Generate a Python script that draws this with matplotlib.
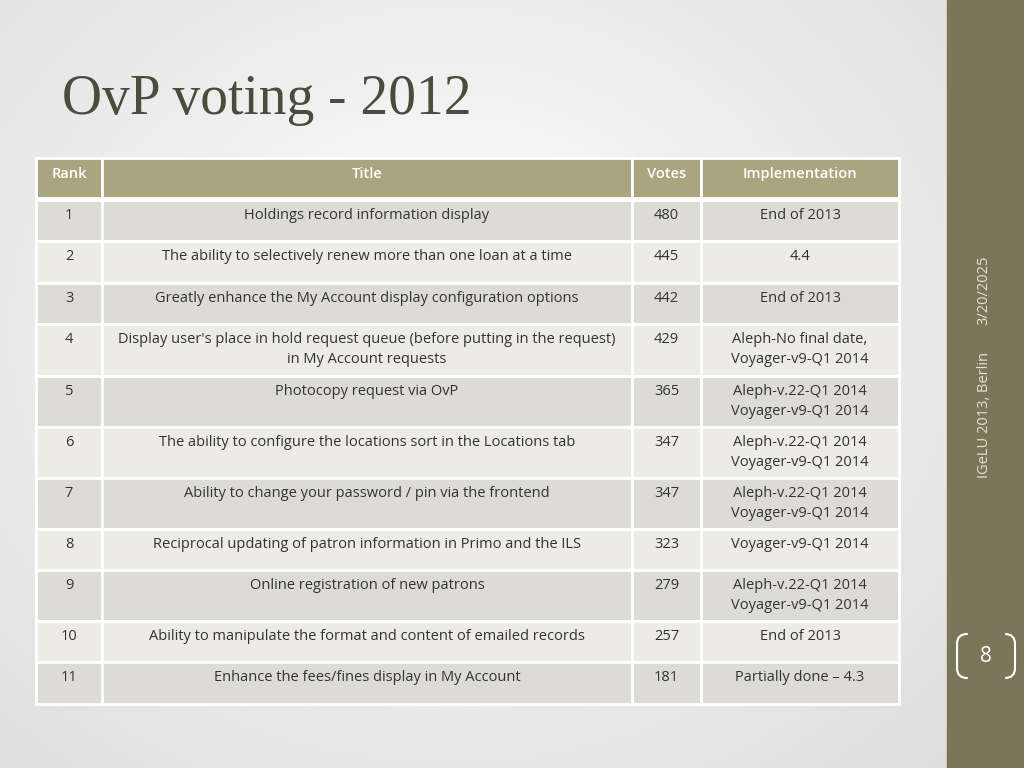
import matplotlib.pyplot as plt
from matplotlib.patches import Rectangle, FancyBboxPatch
import numpy as np

ranks = ["1", "2", "3", "4", "5", "6", "7", "8", "9", "10", "11"]
titles = [
    "Holdings record information display",
    "The ability to selectively renew more than one loan at a time",
    "Greatly enhance the My Account display configuration options",
    "Display user's place in hold request queue (before putting in the request)\nin My Account requests",
    "Photocopy request via OvP",
    "The ability to configure the locations sort in the Locations tab",
    "Ability to change your password / pin via the frontend",
    "Reciprocal updating of patron information in Primo and the ILS",
    "Online registration of new patrons",
    "Ability to manipulate the format and content of emailed records",
    "Enhance the fees/fines display in My Account",
]
votes = [480, 445, 442, 429, 365, 347, 347, 323, 279, 257, 181]
implementation = [
    "End of 2013", "4.4", "End of 2013",
    "Aleph-No final date,\nVoyager-v9-Q1 2014",
    "Aleph-v.22-Q1 2014\nVoyager-v9-Q1 2014",
    "Aleph-v.22-Q1 2014\nVoyager-v9-Q1 2014",
    "Aleph-v.22-Q1 2014\nVoyager-v9-Q1 2014",
    "Voyager-v9-Q1 2014",
    "Aleph-v.22-Q1 2014\nVoyager-v9-Q1 2014",
    "End of 2013", "Partially done \u2013 4.3",
]
headers = ["Rank", "Title", "Votes", "Implementation"]

fig = plt.figure(figsize=(10.24, 7.68), dpi=100)
ax = fig.add_axes([0, 0, 1, 1])
ax.set_xlim(0, 1024)
ax.set_ylim(768, 0)
ax.axis("off")

# background: soft radial gradient
yy, xx = np.mgrid[0:768, 0:1024]
d = np.sqrt(((xx - 450) / 700) ** 2 + ((yy - 330) / 600) ** 2)
bg = np.clip(1.0 - 0.13 * d, 0.85, 1.0)
ax.imshow(np.dstack([bg, bg, bg]), extent=[0, 1024, 768, 0], zorder=0)
ax.add_patch(Rectangle((947, 0), 77, 768, color="#7b7659", zorder=1))

ax.text(62, 100, "OvP voting - 2012", fontsize=40, family="Liberation Serif",
        color="#4d4b3c", va="center", ha="left")

col_x = [36, 102, 632, 701, 899]
header_y = (158, 198)
row_y = [(200, 241), (241, 283), (283, 324), (324, 376), (376, 427), (427, 478),
         (478, 529), (529, 570), (570, 621), (621, 662), (662, 704)]

for j, h in enumerate(headers):
    x0, x1 = col_x[j], col_x[j + 1]
    ax.add_patch(Rectangle((x0, header_y[0]), x1 - x0, header_y[1] - header_y[0],
                           facecolor="#a9a57f", edgecolor="white", lw=2, zorder=2))
    ax.text((x0 + x1) / 2, header_y[0] + 16, h, ha="center", va="center",
            fontsize=10.5, color="white", family="Open Sans", weight="semibold", zorder=3)

for i in range(len(ranks)):
    y0, y1 = row_y[i]
    fc = "#dddcd4" if i % 2 == 0 else "#ecebe6"
    cells = [ranks[i], titles[i], str(votes[i]), implementation[i]]
    for j, c in enumerate(cells):
        x0, x1 = col_x[j], col_x[j + 1]
        ax.add_patch(Rectangle((x0, y0), x1 - x0, y1 - y0, facecolor=fc,
                               edgecolor="white", lw=2, zorder=2))
        ax.text((x0 + x1) / 2, y0 + 8, c, ha="center", va="top", fontsize=10.5,
                color="#333333", family="Open Sans", linespacing=1.45, zorder=3)

ax.text(984, 290, "3/20/2025", rotation=90, ha="center", va="center",
        fontsize=10.5, color="#e4e2d4", family="Open Sans", zorder=4)
ax.text(984, 415, "IGeLU 2013, Berlin", rotation=90, ha="center", va="center",
        fontsize=10.5, color="#e4e2d4", family="Open Sans", zorder=4)
ax.add_patch(FancyBboxPatch((957, 634), 58, 44, boxstyle="round,pad=0,rounding_size=10",
                            facecolor="none", edgecolor="white", lw=1.5, zorder=2))
ax.add_patch(Rectangle((968, 630), 36, 52, color="#7b7659", zorder=3))
ax.text(986, 656, "8", ha="center", va="center", fontsize=15, color="white",
        family="Open Sans", zorder=4)

fig.savefig("out.png", dpi=100)
